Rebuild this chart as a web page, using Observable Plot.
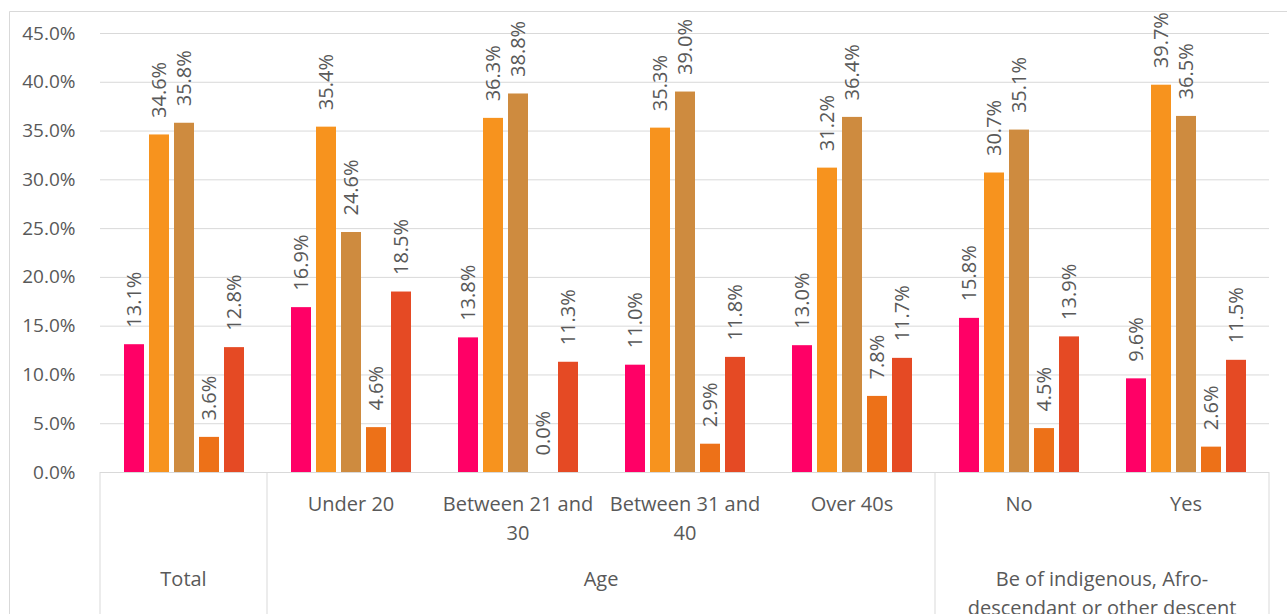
<!DOCTYPE html>
<html>
<head>
<meta charset="utf-8">
<script src="https://cdn.jsdelivr.net/npm/d3@7"></script>
<script src="https://cdn.jsdelivr.net/npm/@observablehq/plot@0.6"></script>
<style>
  html, body { margin: 0; padding: 0; background: #fff; }
  #chart { position: relative; width: 1287px; height: 614px; overflow: hidden; }
</style>
</head>
<body>
<div id="chart"></div>
<script>
// ---- Data ----
const categories = ["Total", "Under 20", "Between 21 and 30", "Between 31 and 40", "Over 40s", "No", "Yes"];
const categoryLabels = ["", "Under 20", "Between 21 and\n30", "Between 31 and\n40", "Over 40s", "No", "Yes"];
const seriesNames = ["Series 1", "Series 2", "Series 3", "Series 4", "Series 5"];
const seriesColors = ["#FF0066", "#F7931E", "#CE8B3F", "#ED7118", "#E54A24"];
const series1 = [13.1, 16.9, 13.8, 11.0, 13.0, 15.8, 9.6];
const series2 = [34.6, 35.4, 36.3, 35.3, 31.2, 30.7, 39.7];
const series3 = [35.8, 24.6, 38.8, 39.0, 36.4, 35.1, 36.5];
const series4 = [3.6, 4.6, 0.0, 2.9, 7.8, 4.5, 2.6];
const series5 = [12.8, 18.5, 11.3, 11.8, 11.7, 13.9, 11.5];
const groupNames = ["Total", "Age", "Be of indigenous, Afro-\ndescendant or other descent"];
const groupMembers = [["Total"], ["Under 20", "Between 21 and 30", "Between 31 and 40", "Over 40s"], ["No", "Yes"]];
const yTicks = [0, 0.05, 0.10, 0.15, 0.20, 0.25, 0.30, 0.35, 0.40, 0.45];

// Build table
const allSeries = [series1, series2, series3, series4, series5];
const rows = [];
categories.forEach((c, i) => {
  seriesNames.forEach((s, j) => rows.push({category: c, series: s, value: allSeries[j][i] / 100}));
});
const labelRows = categories.map((c, i) => ({category: c, label: categoryLabels[i]}));

const W = 1287, H = 614;
const mL = 97, mR = 15, mT = 33, mB = 142;
const gray = "#d9d9d9";
const textColor = "#595959";

const chart = Plot.plot({
  width: W,
  height: H,
  marginLeft: mL,
  marginRight: mR,
  marginTop: mT,
  marginBottom: mB,
  style: {fontFamily: "'Open Sans', sans-serif", fontSize: "20px", color: textColor, background: "transparent", overflow: "visible"},
  fx: {domain: categories, padding: 0, axis: null, label: null},
  x: {domain: seriesNames, paddingInner: 0.22, paddingOuter: 0.88, axis: null, label: null},
  y: {domain: [0, 0.45], axis: null, label: null},
  color: {domain: seriesNames, range: seriesColors},
  marks: [
    Plot.gridY(yTicks, {stroke: gray, strokeOpacity: 1, strokeWidth: 1}),
    Plot.axisY(yTicks, {tickSize: 0, tickPadding: 25, tickFormat: ".1%", fontSize: 19, label: null}),
    Plot.barY(rows, {fx: "category", x: "series", y: "value", fill: "series"}),
    Plot.text(rows, {
      fx: "category", x: "series", y: "value",
      text: d => d3.format(".1%")(d.value),
      rotate: -90, textAnchor: "start", dy: -17, fontSize: 20
    }),
    Plot.text(labelRows, {
      fx: "category", text: "label", frameAnchor: "bottom",
      dy: 18, lineAnchor: "top", lineHeight: 1.45, fontSize: 20
    })
  ]
});

document.getElementById("chart").appendChild(chart);

// Multi-level axis separators and group labels via the plot's fx scale
const fxs = chart.scale("fx");
let left, bw;
if (fxs && typeof fxs.apply === "function") {
  left = v => fxs.apply(v);
  bw = fxs.bandwidth;
} else {
  const sb = d3.scaleBand(fxs.domain, fxs.range).padding(0);
  left = v => sb(v);
  bw = sb.bandwidth();
}
const svg = d3.select(chart);
const y0 = H - mB;
const g = svg.append("g");
const bounds = new Set();
groupMembers.forEach(m => {
  bounds.add(left(m[0]));
  bounds.add(left(m[m.length - 1]) + bw);
});
[...bounds].forEach(x => {
  g.append("line").attr("x1", x).attr("x2", x).attr("y1", y0).attr("y2", H)
    .attr("stroke", gray).attr("stroke-width", 1);
});
// baseline
g.append("line").attr("x1", left(categories[0])).attr("x2", left(categories[categories.length - 1]) + bw)
  .attr("y1", y0 + 0.5).attr("y2", y0 + 0.5).attr("stroke", gray);
// group labels
groupMembers.forEach((m, i) => {
  const cx = (left(m[0]) + left(m[m.length - 1]) + bw) / 2;
  const t = g.append("text").attr("text-anchor", "middle").attr("fill", textColor)
    .attr("font-size", 20).attr("x", cx).attr("y", y0 + 114);
  groupNames[i].split("\n").forEach((line, k) => {
    t.append("tspan").attr("x", cx).attr("dy", k === 0 ? 0 : 29).text(line);
  });
});
// outer chart border (top and left)
g.append("line").attr("x1", 9.5).attr("x2", W).attr("y1", 11.5).attr("y2", 11.5).attr("stroke", gray);
g.append("line").attr("x1", 9.5).attr("x2", 9.5).attr("y1", 11.5).attr("y2", H).attr("stroke", gray);
</script>
</body>
</html>
